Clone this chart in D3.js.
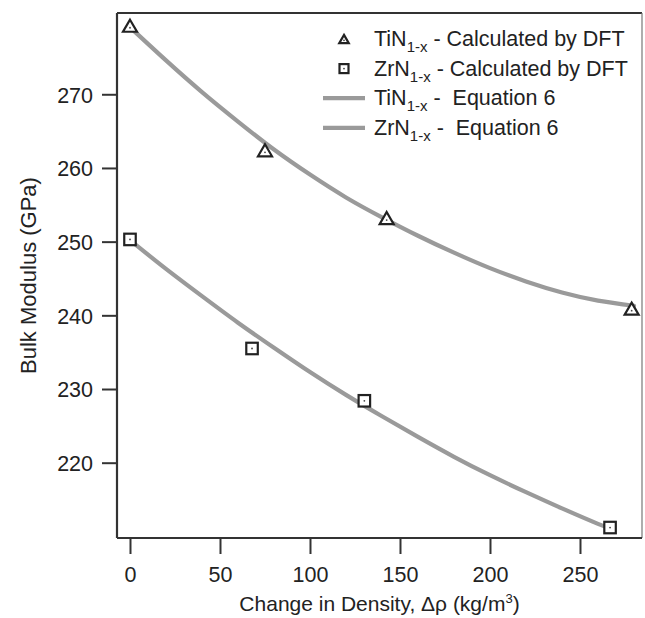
<!DOCTYPE html>
<html>
<head>
<meta charset="utf-8">
<script src="https://cdn.jsdelivr.net/npm/d3@7"></script>
<style>
  body { margin: 0; background: #fff; }
  svg { display: block; font-family: "Liberation Sans", Arial, sans-serif; }
  text { fill: #222; white-space: pre; }
</style>
</head>
<body>
<svg id="chart" width="645" height="618"></svg>
<script>
// DFT points
const tinX = [0, 75, 142.6, 278.7];
const tinY = [279.3, 262.4, 253.2, 240.9];
const zrnX = [0, 67.8, 130.2, 266.7];
const zrnY = [250.3, 235.5, 228.4, 211.2];

// Equation 6 curves
const tinFitX = [0, 20, 40, 60, 80, 100, 120, 140, 160, 180, 200, 220, 240, 260, 280];
const tinFitY = [279.1, 274.6, 270.3, 266.3, 262.5, 259.1, 256.0, 253.3, 250.8, 248.5, 246.4, 244.6, 243.1, 242.0, 241.3];
const zrnFitX = [0, 20, 40, 60, 80, 100, 120, 140, 160, 180, 200, 220, 240, 260, 266.7];
const zrnFitY = [250.2, 246.3, 242.6, 239.0, 235.6, 232.3, 229.2, 226.3, 223.5, 220.8, 218.3, 216.0, 213.8, 211.7, 211.1];

const xTicks = [0, 50, 100, 150, 200, 250];
const yTicks = [220, 230, 240, 250, 260, 270];

const legendItems = [
    {type: 'triangle', main: 'TiN', sub: '1-x', rest: ' - Calculated by DFT'},
    {type: 'square', main: 'ZrN', sub: '1-x', rest: ' - Calculated by DFT'},
    {type: 'line', main: 'TiN', sub: '1-x', rest: ' -  Equation 6'},
    {type: 'line', main: 'ZrN', sub: '1-x', rest: ' -  Equation 6'}
];

const margin = {top: 13, right: 3, bottom: 80, left: 117};
const width = 645 - margin.left - margin.right;
const height = 618 - margin.top - margin.bottom;
const ink = '#222';
const fitColor = '#9a9a9a';

const svg = d3.select('#chart');
const g = svg.append('g').attr('transform', `translate(${margin.left},${margin.top})`);

const xScale = d3.scaleLinear().domain([-7.22, 284.45]).range([0, width]);
const yScale = d3.scaleLinear().domain([209.78, 281.03]).range([height, 0]);

// frame
g.append('line').attr('x1', 0).attr('x2', width).attr('y1', 0).attr('y2', 0)
    .attr('stroke', '#333').attr('stroke-width', 2);
g.append('line').attr('x1', width).attr('x2', width).attr('y1', 0).attr('y2', height)
    .attr('stroke', '#777').attr('stroke-width', 1.2);

const xAxis = g.append('g')
    .attr('transform', `translate(0,${height})`)
    .call(d3.axisBottom(xScale).tickValues(xTicks).tickSize(16).tickPadding(13).tickSizeOuter(0));
const yAxis = g.append('g')
    .call(d3.axisLeft(yScale).tickValues(yTicks).tickSize(15).tickPadding(9).tickSizeOuter(0));

[xAxis, yAxis].forEach(a => {
    a.select('.domain').attr('stroke', '#333').attr('stroke-width', 2.2);
    a.selectAll('.tick line').attr('stroke', '#333').attr('stroke-width', 2);
    a.selectAll('.tick text')
        .attr('fill', ink)
        .style('font-size', '21.5px')
        .style('font-family', '"Liberation Sans", Arial, sans-serif');
});
xAxis.select('.domain').attr('d', `M0,0H${width}`);
yAxis.select('.domain').attr('d', `M0,0V${height}`);
yAxis.selectAll('.tick text').attr('dy', '0.36em');

// axis titles
svg.append('text')
    .attr('transform', `translate(36,${margin.top + height / 2}) rotate(-90)`)
    .attr('text-anchor', 'middle')
    .style('font-size', '22px')
    .text('Bulk Modulus (GPa)');

const xLabel = svg.append('text')
    .attr('x', margin.left + width / 2)
    .attr('y', 611)
    .attr('text-anchor', 'middle')
    .style('font-size', '21px');
xLabel.append('tspan').text('Change in Density, \u0394\u03c1 (kg/m');
xLabel.append('tspan').attr('dy', -8).style('font-size', '13px').text('3');
xLabel.append('tspan').attr('dy', 8).text(')');

// fit curves
const line = d3.line()
    .x(d => xScale(d[0]))
    .y(d => yScale(d[1]))
    .curve(d3.curveNatural);

[[tinFitX, tinFitY], [zrnFitX, zrnFitY]].forEach(([xs, ys]) => {
    g.append('path')
        .datum(xs.map((x, i) => [x, ys[i]]))
        .attr('d', line)
        .attr('fill', 'none')
        .attr('stroke', fitColor)
        .attr('stroke-width', 4.2)
        .attr('stroke-linecap', 'round');
});

function triangle(sel, w) {
    const h = w * 0.86;
    sel.append('path')
        .attr('d', `M0,${-h / 2}L${w / 2},${h / 2}L${-w / 2},${h / 2}Z`)
        .attr('fill', '#fff').attr('stroke', ink).attr('stroke-width', 2.2)
        .attr('stroke-linejoin', 'miter');
    sel.append('circle').attr('cy', h / 6).attr('r', 0.9).attr('fill', '#444');
}

function square(sel, w) {
    sel.append('rect')
        .attr('x', -w / 2).attr('y', -w / 2).attr('width', w).attr('height', w)
        .attr('fill', '#fff').attr('stroke', ink).attr('stroke-width', 2.2);
    sel.append('circle').attr('r', 0.9).attr('fill', '#444');
}

g.selectAll('.tin-pt')
    .data(tinX.map((x, i) => [x, tinY[i]]))
    .join('g')
    .attr('class', 'tin-pt')
    .attr('transform', d => `translate(${xScale(d[0])},${yScale(d[1])})`)
    .each(function() { triangle(d3.select(this), 14); });

g.selectAll('.zrn-pt')
    .data(zrnX.map((x, i) => [x, zrnY[i]]))
    .join('g')
    .attr('class', 'zrn-pt')
    .attr('transform', d => `translate(${xScale(d[0])},${yScale(d[1])})`)
    .each(function() { square(d3.select(this), 11.5); });

// legend
const legend = svg.append('g').attr('transform', 'translate(344,39)');
const rowH = 29.6;

legend.selectAll('g.item')
    .data(legendItems)
    .join('g')
    .attr('class', 'item')
    .attr('transform', (d, i) => `translate(0,${i * rowH})`)
    .each(function(d) {
        const item = d3.select(this);
        if (d.type === 'triangle') triangle(item, 9.5);
        else if (d.type === 'square') square(item, 9);
        else item.append('line').attr('x1', -21).attr('x2', 21)
            .attr('stroke', fitColor).attr('stroke-width', 4.2);
        const t = item.append('text').attr('x', 30).attr('y', 7).style('font-size', '21.5px');
        t.append('tspan').text(d.main);
        t.append('tspan').attr('dy', 6).style('font-size', '15px').text(d.sub);
        t.append('tspan').attr('dy', -6).text(d.rest);
    });
</script>
</body>
</html>
